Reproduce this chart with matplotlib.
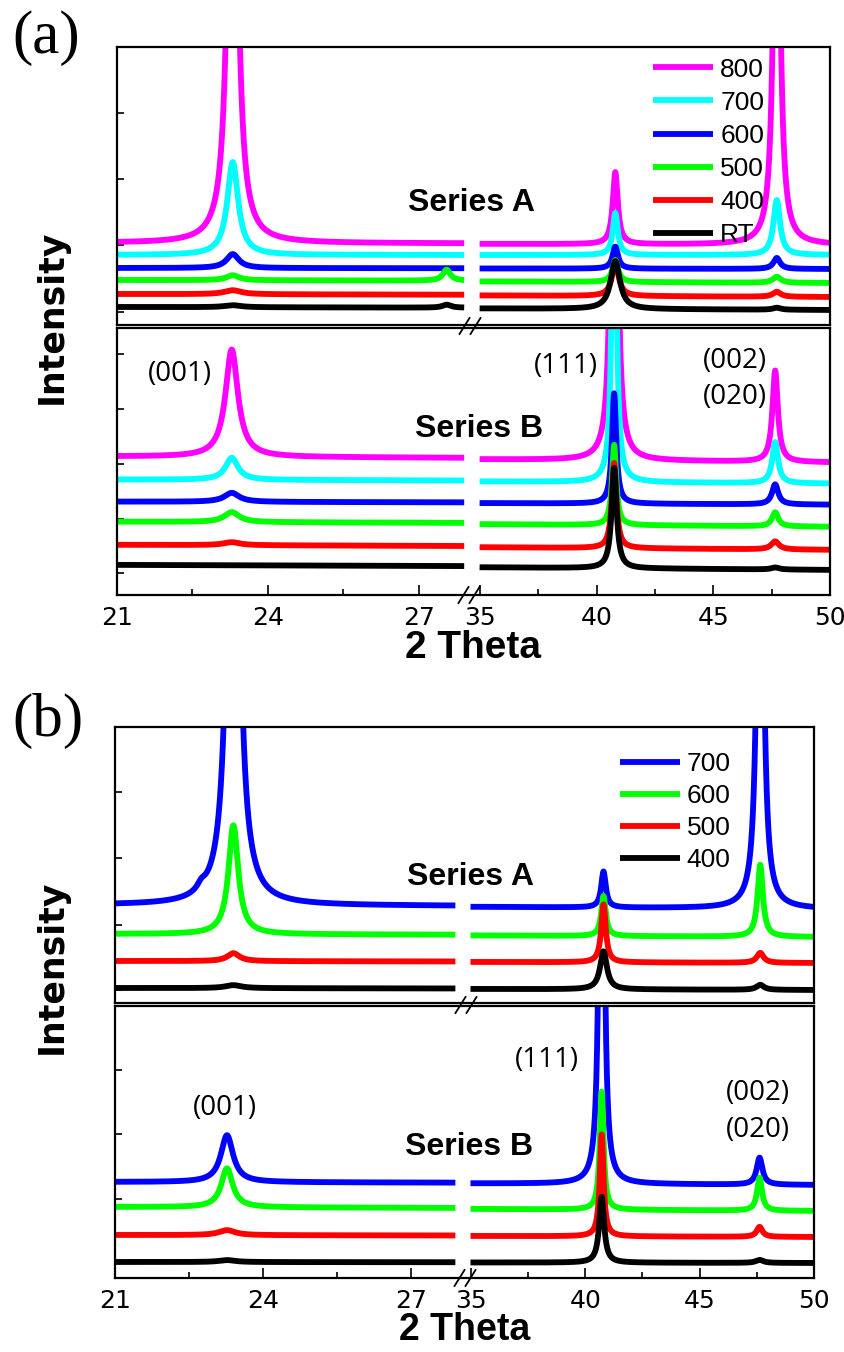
import numpy as np
import matplotlib
matplotlib.use("Agg")
import matplotlib.pyplot as plt
from matplotlib import font_manager
from matplotlib.lines import Line2D


def pick(*names):
    have = {f.name for f in font_manager.fontManager.ttflist}
    for n in names:
        if n in have:
            return n
    return "DejaVu Sans"


NARROW = pick("Liberation Sans Narrow", "DejaVu Sans")
SANS = pick("Liberation Sans", "DejaVu Sans")
SERIF = pick("Liberation Serif", "DejaVu Serif")
HKL = pick("Open Sans", "Lato", "DejaVu Sans")
BOLD = pick("DejaVu Sans")

# ---------------------------------------------------------------- data
# Panel (a): annealing temperatures, colours
a_temps = ["800", "700", "600", "500", "400", "RT"]
a_colors = ["#FF00FF", "#00FFFF", "#0000FF", "#00FF00", "#FF0000", "#000000"]

# Series A, panel (a): background at 21 deg and 50 deg, peak positions, heights, half widths
aA_base_lo = [82, 70, 57, 45, 31, 18]
aA_base_hi = [80, 70, 56, 42, 28, 15]
aA_pos = [23.30, 27.55, 40.80, 47.72]
aA_h = [[650, 0, 72, 500],
        [93, 0, 42, 55],
        [14, 0, 22, 11],
        [5, 11, 22, 6],
        [4, 0, 32, 5],
        [2, 3, 48, 2]]
aA_w = [[0.095, 0.10, 0.13, 0.15],
        [0.13, 0.10, 0.13, 0.17],
        [0.15, 0.10, 0.14, 0.17],
        [0.15, 0.09, 0.15, 0.20],
        [0.20, 0.10, 0.18, 0.20],
        [0.20, 0.10, 0.24, 0.20]]

# Series B, panel (a)
aB_base_lo = [138, 115, 93, 73, 50, 30]
aB_base_hi = [132, 111, 90, 68, 45, 25]
aB_pos = [23.28, 40.75, 47.65]
aB_h = [[107, 900, 91],
        [22, 400, 41],
        [9, 110, 20],
        [10, 80, 14],
        [3, 85, 8],
        [0, 100, 2]]
aB_w = [[0.15, 0.10, 0.14],
        [0.15, 0.10, 0.15],
        [0.18, 0.11, 0.16],
        [0.18, 0.11, 0.16],
        [0.20, 0.12, 0.20],
        [0.20, 0.13, 0.20]]

# Panel (b)
b_temps = ["700", "600", "500", "400"]
b_colors = ["#0000FF", "#00FF00", "#FF0000", "#000000"]

bA_base_lo = [98, 69, 42, 15]
bA_base_hi = [94, 66, 40, 13]
bA_pos = [22.75, 23.40, 40.80, 47.65]
bA_h = [[6, 800, 36, 600],
        [0, 109, 40, 72],
        [0, 8, 58, 10],
        [0, 3, 38, 5]]
bA_w = [[0.10, 0.107, 0.12, 0.14],
        [0.10, 0.12, 0.12, 0.14],
        [0.10, 0.15, 0.12, 0.18],
        [0.10, 0.20, 0.18, 0.20]]

bB_base_lo = [96, 71, 43, 16]
bB_base_hi = [93, 67, 41, 15]
bB_pos = [23.27, 40.72, 47.62]
bB_h = [[47, 900, 27],
        [39, 118, 33],
        [5, 102, 10],
        [2, 66, 3]]
bB_w = [[0.15, 0.085, 0.15],
        [0.14, 0.10, 0.13],
        [0.20, 0.10, 0.15],
        [0.20, 0.13, 0.20]]

x_major = [21, 24, 27, 35, 40, 45, 50]
x_minor = [22.5, 25.5, 37.5, 42.5, 47.5]

# ---------------------------------------------------------------- broken 2-theta scale
BRK_X = np.array([21.0, 28.0, 35.0, 50.0])
BRK_U = np.array([0.0, 0.494, 0.509, 1.0])


def _pw(v, xs, us):
    v = np.asarray(v, dtype=float)
    out = np.interp(v, xs, us)
    lo_s = (us[1] - us[0]) / (xs[1] - xs[0])
    hi_s = (us[-1] - us[-2]) / (xs[-1] - xs[-2])
    out = np.where(v < xs[0], us[0] + (v - xs[0]) * lo_s, out)
    out = np.where(v > xs[-1], us[-1] + (v - xs[-1]) * hi_s, out)
    return out


def fwd(v):
    return _pw(v, BRK_X, BRK_U)


def inv(v):
    return _pw(v, BRK_U, BRK_X)


SEG_L = np.linspace(21.0, 27.9, 1500)
SEG_R = np.linspace(34.8, 50.0, 3000)


def profile(x, lo, hi, pos, hts, wds):
    y = lo + (hi - lo) * (x - 21.0) / 29.0
    for p, h, w in zip(pos, hts, wds):
        y = y + h / (1.0 + ((x - p) / w) ** 2)
    return y


W, H = 845, 1352
fig = plt.figure(figsize=(W / 100, H / 100), dpi=100)


def rect(l, t, r, b):
    return [l / W, 1 - b / H, (r - l) / W, (b - t) / H]


LW = 4.2
LEG_FS = 19


def setup(ax, ymax, yticks, bottom):
    ax.set_xscale("function", functions=(fwd, inv))
    ax.set_xlim(21, 50)
    ax.set_ylim(0, ymax)
    ax.set_yticks(yticks)
    ax.tick_params(axis="y", which="both", direction="in", length=5, width=1.2,
                   labelleft=False, left=True, right=False)
    if bottom:
        ax.set_xticks(x_major)
        ax.set_xticks(x_minor, minor=True)
        ax.set_xticklabels([str(v) for v in x_major])
        ax.tick_params(axis="x", which="major", direction="in", length=7, width=1.2,
                       top=False, pad=8, labelsize=18)
        ax.tick_params(axis="x", which="minor", direction="in", length=4, width=1.2,
                       top=False)
        for lab in ax.get_xticklabels():
            lab.set_fontfamily(NARROW)
    else:
        ax.set_xticks([])
        ax.set_xticks([], minor=True)
    for s in ax.spines.values():
        s.set_linewidth(1.6)


def draw_set(ax, names, colors, lo, hi, pos, hts, wds):
    for i, (n, c) in enumerate(zip(names, colors)):
        ax.plot(SEG_L, profile(SEG_L, lo[i], hi[i], pos, hts[i], wds[i]),
                color=c, lw=LW, label=n, solid_capstyle="butt")
        ax.plot(SEG_R, profile(SEG_R, lo[i], hi[i], pos, hts[i], wds[i]),
                color=c, lw=LW, solid_capstyle="butt")


def slash_pair(cx, cy):
    for dx in (-5.5, 5.5):
        x0, y0 = cx + dx - 5, cy + 8
        x1, y1 = cx + dx + 5, cy - 8
        fig.add_artist(Line2D([x0 / W, x1 / W], [1 - y0 / H, 1 - y1 / H],
                              transform=fig.transFigure, color="black", lw=1.3))


def add_legend(ax, x, y, spacing):
    ax.legend(loc="upper left", bbox_to_anchor=(x, y), frameon=False,
              handlelength=2.27, handletextpad=0.27, labelspacing=spacing,
              borderpad=0, borderaxespad=0, prop={"family": SANS, "size": LEG_FS})


# ---------------------------------------------------------------- panel (a)
axAa = fig.add_axes(rect(117, 47, 830, 325))
setup(axAa, 278, [13, 80, 146, 212], bottom=False)
draw_set(axAa, a_temps, a_colors, aA_base_lo, aA_base_hi, aA_pos, aA_h, aA_w)
add_legend(axAa, 0.752, 0.962, 0.345)
axAa.text(0.4965, 0.44, "Series A", transform=axAa.transAxes, ha="center", va="center",
          fontsize=23, fontweight="bold", family=SANS)

axBa = fig.add_axes(rect(117, 328, 830, 595))
setup(axBa, 266, [22, 76, 131, 185, 240], bottom=True)
draw_set(axBa, a_temps, a_colors, aB_base_lo, aB_base_hi, aB_pos, aB_h, aB_w)
axBa.text(0.508, 0.62, "Series B", transform=axBa.transAxes, ha="center", va="center",
          fontsize=23, fontweight="bold", family=SANS)
axBa.text(22.25, 220, "(001)", ha="center", va="center", fontsize=20, family=HKL)
axBa.text(38.69, 228, "(111)", ha="center", va="center", fontsize=20, family=HKL)
axBa.text(45.94, 233, "(002)", ha="center", va="center", fontsize=20, family=HKL)
axBa.text(45.94, 197, "(020)", ha="center", va="center", fontsize=20, family=HKL)
axBa.set_xlabel("2 Theta", fontsize=28, fontweight="bold", family=SANS, labelpad=0)

fig.text(12 / W, 1 - 38 / H, "(a)", ha="left", va="center", fontsize=44, family=SERIF)
fig.text(52 / W, 1 - 317 / H, "Intensity", ha="center", va="center", rotation=90,
         fontsize=25, fontweight="bold", family=BOLD)
slash_pair(470, 326)
slash_pair(469, 595)

# ---------------------------------------------------------------- panel (b)
axAb = fig.add_axes(rect(115, 727, 814, 1003))
setup(axAb, 276, [13, 78, 145, 211], bottom=False)
draw_set(axAb, b_temps, b_colors, bA_base_lo, bA_base_hi, bA_pos, bA_h, bA_w)
add_legend(axAb, 0.722, 0.908, 0.30)
axAb.text(0.509, 0.457, "Series A", transform=axAb.transAxes, ha="center", va="center",
          fontsize=23, fontweight="bold", family=SANS)

axBb = fig.add_axes(rect(115, 1006, 814, 1278))
setup(axBb, 272, [15, 79, 144, 208], bottom=True)
draw_set(axBb, b_temps, b_colors, bB_base_lo, bB_base_hi, bB_pos, bB_h, bB_w)
axBb.text(0.506, 0.48, "Series B", transform=axBb.transAxes, ha="center", va="center",
          fontsize=23, fontweight="bold", family=SANS)
axBb.text(23.23, 170, "(001)", ha="center", va="center", fontsize=20, family=HKL)
axBb.text(38.33, 218, "(111)", ha="center", va="center", fontsize=20, family=HKL)
axBb.text(47.57, 185, "(002)", ha="center", va="center", fontsize=20, family=HKL)
axBb.text(47.57, 148, "(020)", ha="center", va="center", fontsize=20, family=HKL)
axBb.set_xlabel("2 Theta", fontsize=27, fontweight="bold", family=SANS, labelpad=-1)

fig.text(12 / W, 1 - 721 / H, "(b)", ha="left", va="center", fontsize=44, family=SERIF)
fig.text(52 / W, 1 - 967 / H, "Intensity", ha="center", va="center", rotation=90,
         fontsize=25, fontweight="bold", family=BOLD)
slash_pair(466, 1005)
slash_pair(465, 1278)

fig.savefig("out.png", dpi=100)
